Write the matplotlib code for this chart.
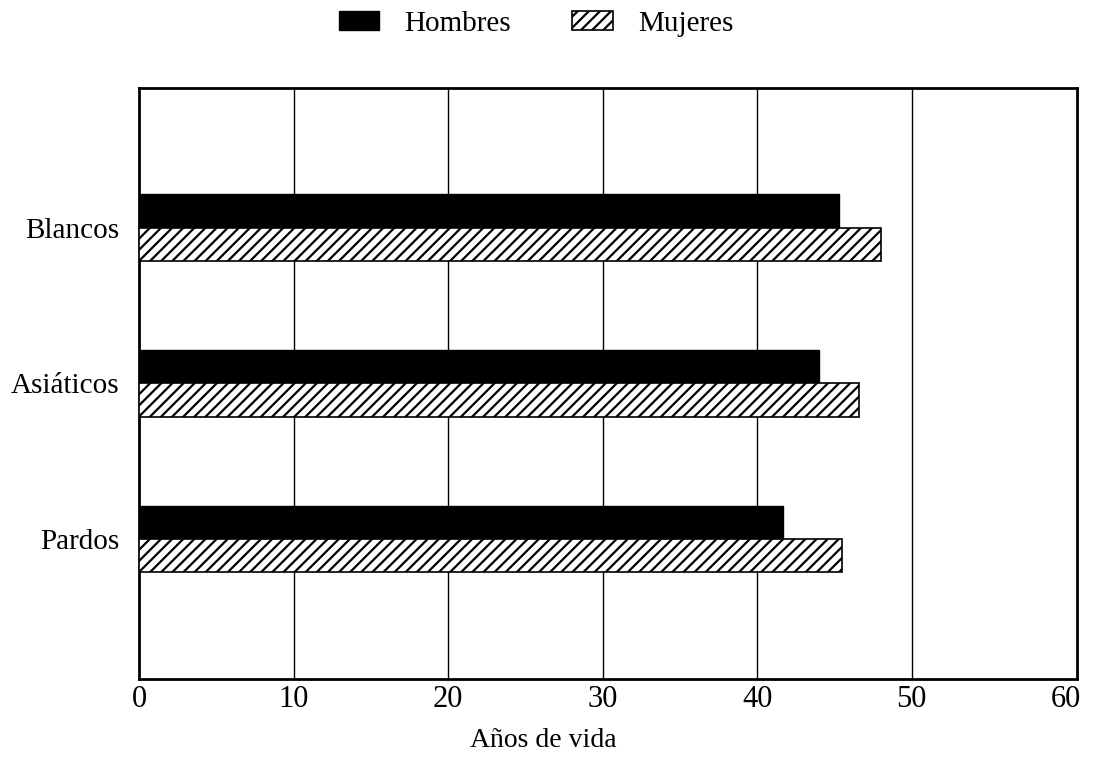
import matplotlib
matplotlib.use("Agg")
import matplotlib.pyplot as plt
import numpy as np

categories = ["Blancos", "Asiáticos", "Pardos"]
hombres = [45.3, 44.0, 41.7]
mujeres = [48.0, 46.6, 45.5]
xticks = [0, 10, 20, 30, 40, 50, 60]
xlabel = "Años de vida"

plt.rcParams['font.family'] = ['Liberation Serif', 'DejaVu Serif']
plt.rcParams['hatch.linewidth'] = 1.6

fig = plt.figure(figsize=(10.98, 7.57), dpi=100)
ax = fig.add_axes([0.1266, 0.103, 0.8544, 0.781])

y = np.arange(len(categories))
h = 0.215
ax.barh(y - h / 2, hombres, height=h, color='black', edgecolor='black', label='Hombres', zorder=3)
ax.barh(y + h / 2, mujeres, height=h, color='white', edgecolor='black', hatch='///',
        linewidth=1.2, label='Mujeres', zorder=3)

ax.set_xlim(0, 60.7)
ax.set_ylim(2.9, -0.9)
ax.set_xticks(xticks)
ax.set_xticklabels([str(t) for t in xticks], fontsize=22)
ax.set_yticks(y)
ax.set_yticklabels(categories, fontsize=21)
ax.tick_params(axis='both', length=0, pad=4)
ax.tick_params(axis='y', pad=14)
for t in xticks[1:-1]:
    ax.axvline(t, color='black', linewidth=1.0, zorder=1)
for s in ax.spines.values():
    s.set_linewidth(2)
ax.set_xlabel(xlabel, fontsize=20, va='center')
ax.xaxis.set_label_coords(0.431, -0.104)

fig.legend(loc='upper center', bbox_to_anchor=(0.488, 1.015), ncol=2, frameon=False,
           fontsize=21, handlelength=1.4, handleheight=0.65, columnspacing=2.1,
           handletextpad=0.85, borderpad=0.25)

fig.savefig("out.png", dpi=100)
